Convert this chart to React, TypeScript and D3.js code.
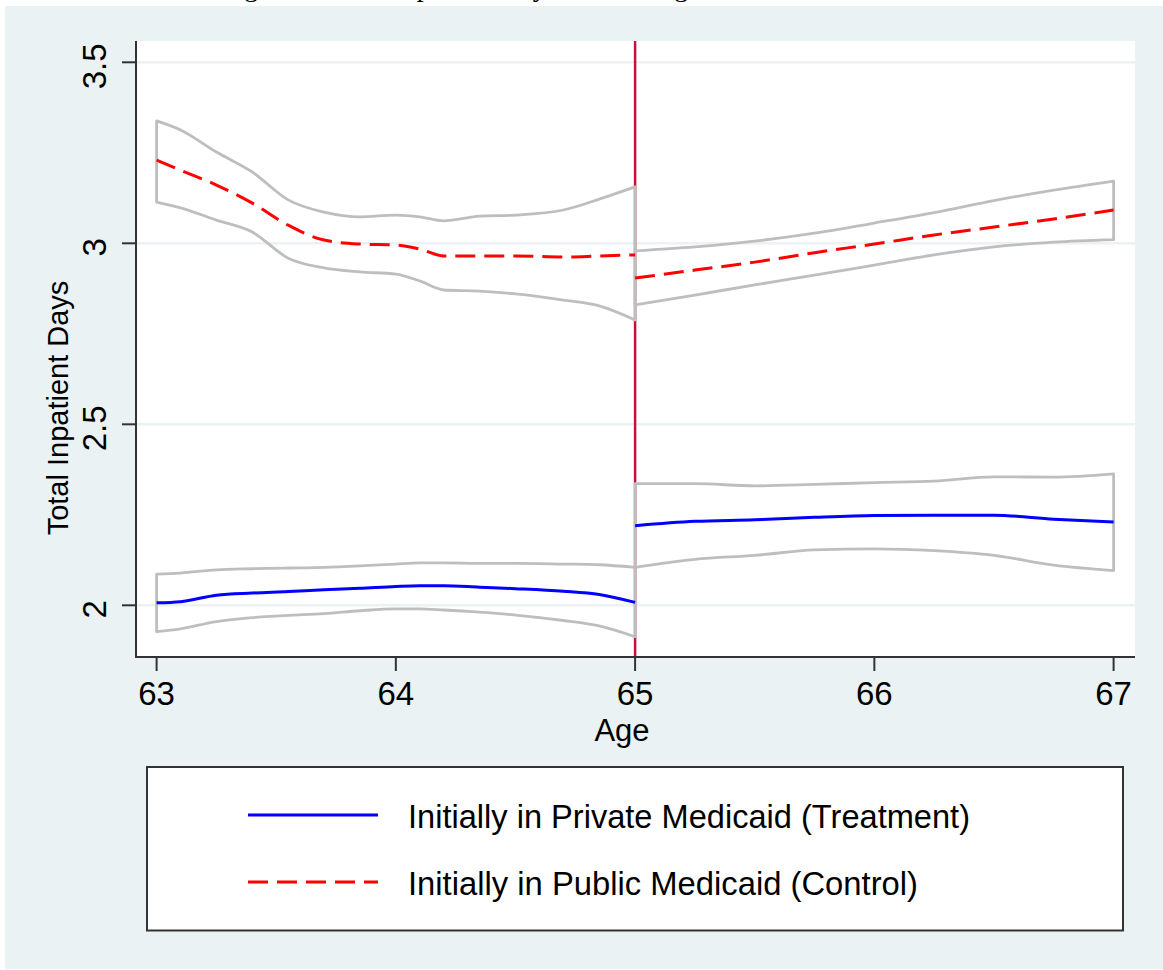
import React from "react";
import * as d3 from "d3";

const ageLeft = [63, 63.1, 63.25, 63.4, 63.55, 63.7, 63.85, 64, 64.1, 64.2, 64.35, 64.5, 64.7, 64.85, 65];
const ageRight = [65, 65.25, 65.5, 65.75, 66, 66.25, 66.5, 66.75, 67];

const controlLeft = [3.230, 3.202, 3.161, 3.111, 3.050, 3.009, 2.998, 2.995, 2.984, 2.965, 2.965, 2.965, 2.962, 2.965, 2.968];
const controlLeftHi = [3.338, 3.313, 3.252, 3.197, 3.120, 3.086, 3.073, 3.078, 3.073, 3.062, 3.075, 3.078, 3.092, 3.122, 3.156];
const controlLeftLo = [3.114, 3.098, 3.064, 3.031, 2.959, 2.932, 2.921, 2.915, 2.896, 2.871, 2.868, 2.860, 2.843, 2.827, 2.788];

const treatLeft = [2.007, 2.010, 2.028, 2.034, 2.038, 2.043, 2.047, 2.052, 2.054, 2.054, 2.050, 2.046, 2.039, 2.030, 2.008];
const treatLeftHi = [2.086, 2.089, 2.098, 2.101, 2.103, 2.105, 2.109, 2.114, 2.117, 2.117, 2.116, 2.116, 2.114, 2.112, 2.105];
const treatLeftLo = [1.927, 1.935, 1.955, 1.966, 1.972, 1.977, 1.985, 1.990, 1.990, 1.987, 1.981, 1.973, 1.958, 1.943, 1.913];

const controlRight = [2.904, 2.926, 2.948, 2.974, 2.998, 3.023, 3.045, 3.067, 3.092];
const controlRightHi = [2.979, 2.990, 3.006, 3.028, 3.056, 3.085, 3.118, 3.147, 3.172];
const controlRightLo = [2.830, 2.857, 2.885, 2.912, 2.940, 2.968, 2.990, 3.003, 3.010];

const treatRight = [2.220, 2.232, 2.236, 2.243, 2.248, 2.249, 2.249, 2.238, 2.230];
const treatRightHi = [2.336, 2.336, 2.330, 2.334, 2.339, 2.343, 2.355, 2.354, 2.363];
const treatRightLo = [2.105, 2.127, 2.138, 2.153, 2.156, 2.151, 2.138, 2.111, 2.096];

const xTicks = [63, 64, 65, 66, 67];
const yTicks = [2, 2.5, 3, 3.5];
const yTickLabels = ["2", "2.5", "3", "3.5"];
const cutoffAge = 65;

const legendLabels = [
  "Initially in Private Medicaid (Treatment)",
  "Initially in Public Medicaid (Control)",
];
const titleText = "Figure 4: Total Inpatient Days Around Age 65";

const W = 1163;
const H = 970;
const BG = "#eaf2f3";
const FONT = "'Liberation Sans', Arial, sans-serif";

export default function App() {
  const plot = { left: 136, right: 1135, top: 41, bottom: 657 };
  const x = d3.scaleLinear().domain([63, 67]).range([156.6, 1113.6]);
  const y = d3.scaleLinear().domain([2, 3.5]).range([605.3, 62.3]);

  const line = (ages: number[], vals: number[]) =>
    d3
      .line<number>()
      .x((_, i) => x(ages[i]))
      .y((v) => y(v))
      .curve(d3.curveMonotoneX)(vals) as string;

  const band = (ages: number[], hi: number[], lo: number[]) => {
    const upper = line(ages, hi);
    const lowerRev = d3
      .line<number>()
      .x((_, i) => x(ages[ages.length - 1 - i]))
      .y((v) => y(v))
      .curve(d3.curveMonotoneX)([...lo].reverse()) as string;
    return upper + "L" + lowerRev.slice(1) + "Z";
  };

  const bands = [
    band(ageLeft, controlLeftHi, controlLeftLo),
    band(ageRight, controlRightHi, controlRightLo),
    band(ageLeft, treatLeftHi, treatLeftLo),
    band(ageRight, treatRightHi, treatRightLo),
  ];

  return (
    <svg
      width={W}
      height={H}
      style={{ position: "absolute", left: 0, top: 0, display: "block" }}
    >
      <rect x={0} y={0} width={W} height={H} fill="#ffffff" />
      <text
        x={221}
        y={-4}
        fontFamily="'Liberation Serif', 'Times New Roman', serif"
        fontSize={28}
        fill="#000"
      >
        {titleText}
      </text>
      <rect x={5} y={6} width={W - 5} height={963} fill={BG} />
      <rect
        x={plot.left}
        y={plot.top}
        width={plot.right - plot.left}
        height={plot.bottom - plot.top}
        fill="#ffffff"
      />
      {yTicks.map((t) => (
        <line
          key={"g" + t}
          x1={plot.left}
          x2={plot.right}
          y1={y(t)}
          y2={y(t)}
          stroke={BG}
          strokeWidth={2.5}
        />
      ))}
      <line
        x1={x(cutoffAge)}
        x2={x(cutoffAge)}
        y1={plot.top}
        y2={plot.bottom}
        stroke="#c8103c"
        strokeWidth={2.5}
      />
      {bands.map((d, i) => (
        <path key={"b" + i} d={d} fill="none" stroke="#bebebe" strokeWidth={2.8} strokeLinejoin="round" />
      ))}
      <path d={line(ageLeft, treatLeft)} fill="none" stroke="#0000ff" strokeWidth={3} />
      <path d={line(ageRight, treatRight)} fill="none" stroke="#0000ff" strokeWidth={3} />
      <path d={line(ageLeft, controlLeft)} fill="none" stroke="#ff0000" strokeWidth={3} strokeDasharray="20,9" />
      <path d={line(ageRight, controlRight)} fill="none" stroke="#ff0000" strokeWidth={3} strokeDasharray="20,9" />

      {/* axes */}
      <line x1={plot.left} x2={plot.left} y1={plot.top} y2={plot.bottom + 1} stroke="#333" strokeWidth={2} />
      <line x1={plot.left - 1} x2={plot.right} y1={plot.bottom} y2={plot.bottom} stroke="#333" strokeWidth={2} />
      {yTicks.map((t, i) => (
        <g key={"yt" + t}>
          <line x1={plot.left - 14} x2={plot.left} y1={y(t)} y2={y(t)} stroke="#333" strokeWidth={2} />
          <text
            transform={`translate(106,${y(t) + 4}) rotate(-90)`}
            textAnchor="middle"
            fontFamily={FONT}
            fontSize={33}
            fill="#000"
          >
            {yTickLabels[i]}
          </text>
        </g>
      ))}
      {xTicks.map((t) => (
        <g key={"xt" + t}>
          <line x1={x(t)} x2={x(t)} y1={plot.bottom} y2={plot.bottom + 14} stroke="#333" strokeWidth={2} />
          <text x={x(t)} y={705} textAnchor="middle" fontFamily={FONT} fontSize={33} fill="#000">
            {t}
          </text>
        </g>
      ))}
      <text x={622} y={741} textAnchor="middle" fontFamily={FONT} fontSize={31} fill="#000">
        Age
      </text>
      <text
        transform="translate(68,408) rotate(-90)"
        textAnchor="middle"
        fontFamily={FONT}
        fontSize={29}
        fill="#000"
      >
        Total Inpatient Days
      </text>

      {/* legend */}
      <rect x={147} y={767} width={976} height={163.5} fill="#ffffff" stroke="#333" strokeWidth={2} />
      <line x1={248} x2={378} y1={815} y2={815} stroke="#0000ff" strokeWidth={3} />
      <line x1={248} x2={378} y1={882} y2={882} stroke="#ff0000" strokeWidth={3} strokeDasharray="20,9" />
      <text
        x={408}
        y={828}
        fontFamily={FONT}
        fontSize={33}
        fill="#000"
        textLength={562}
        lengthAdjust="spacingAndGlyphs"
      >
        {legendLabels[0]}
      </text>
      <text
        x={408}
        y={895}
        fontFamily={FONT}
        fontSize={33}
        fill="#000"
        textLength={510}
        lengthAdjust="spacingAndGlyphs"
      >
        {legendLabels[1]}
      </text>
    </svg>
  );
}
